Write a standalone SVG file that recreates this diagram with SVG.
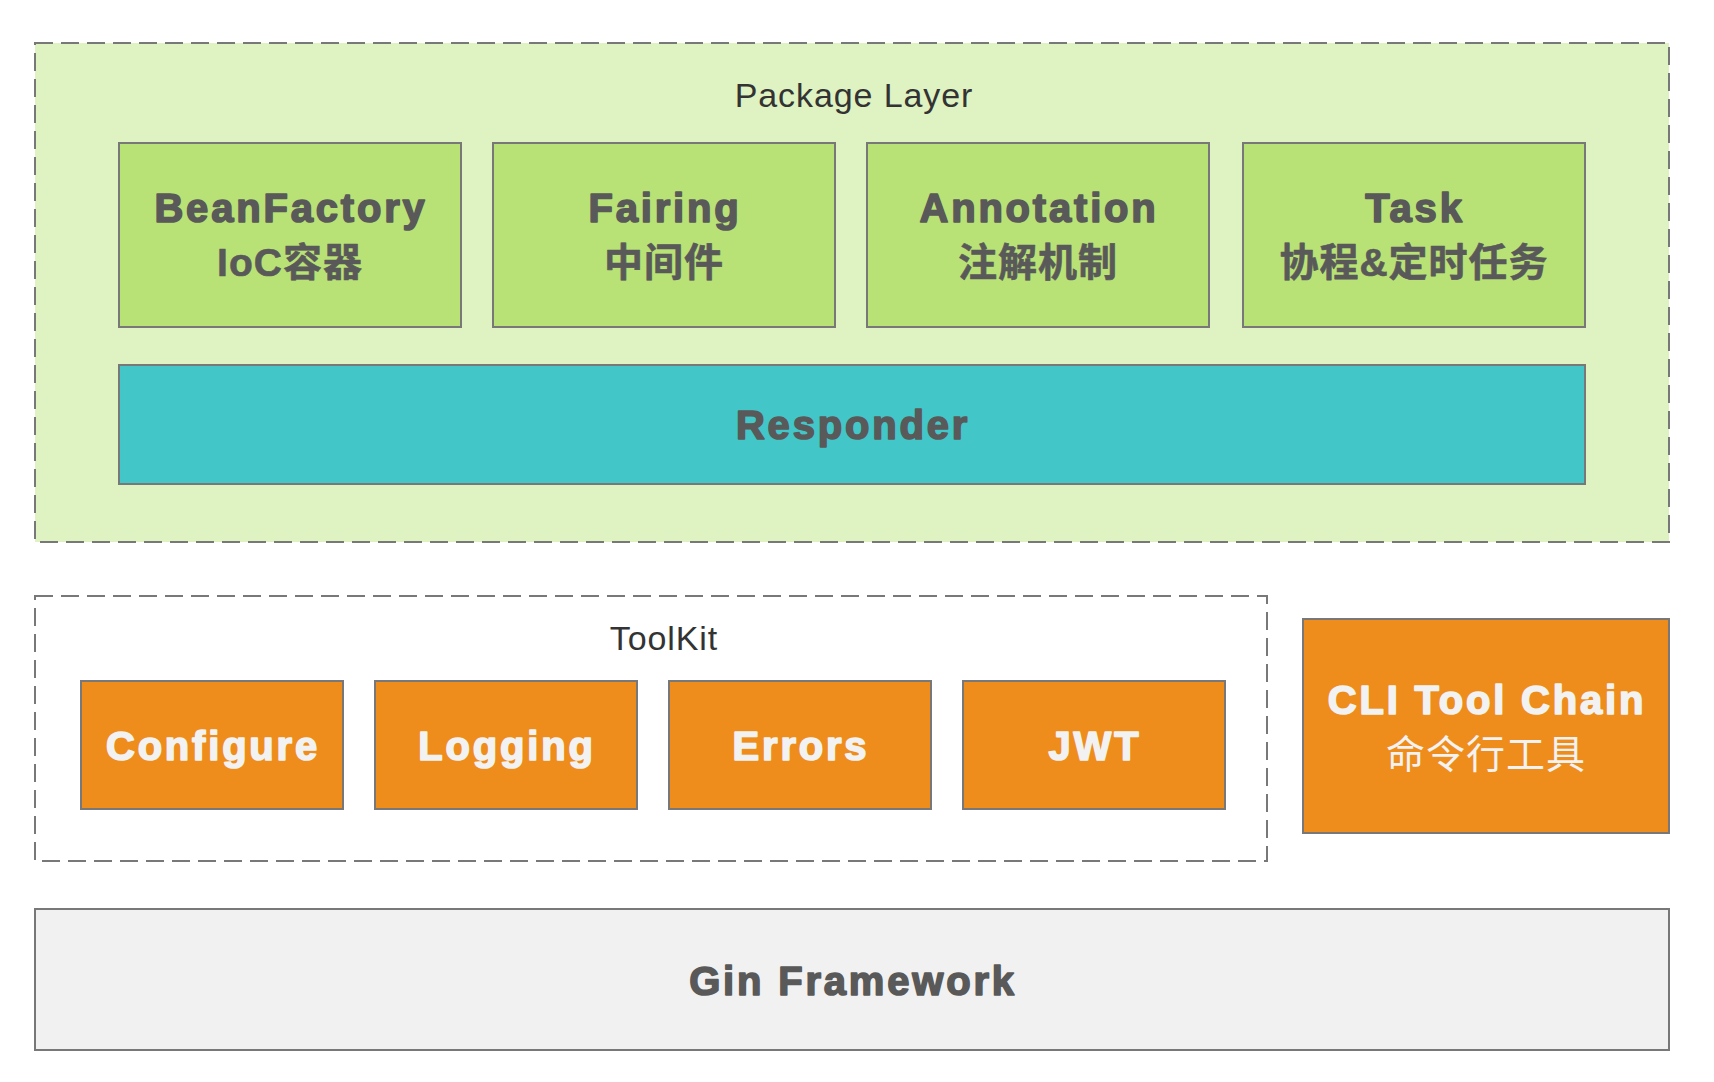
<svg xmlns="http://www.w3.org/2000/svg" width="1714" height="1082" viewBox="0 0 1714 1082">
<style>
.grp{stroke:#787878;stroke-width:2;stroke-dasharray:18 8}
.box{stroke:#787878;stroke-width:2}
.green{fill:#b8e176}
.orange{fill:#ef8d1c}
.t{font-family:"Liberation Sans","Noto Sans CJK SC",sans-serif;text-anchor:middle}
.b{font-weight:bold;font-size:40px;letter-spacing:2.8px;stroke-width:1.6px;stroke-linejoin:round}
.dk{fill:#595959;stroke:#595959}
.wh{fill:#f2f2f2;stroke:#f2f2f2}
.lbl{font-size:34px;letter-spacing:0.9px;fill:#333333}
.zh{font-size:39px;letter-spacing:1px;stroke-width:0.6px}
</style>
<rect width="1714" height="1082" fill="#ffffff"/>
<g id="package-layer">
<rect class="grp" x="35" y="43" width="1634" height="499" fill="#dff2c2"/>
<text class="t lbl" x="854" y="107">Package Layer</text>
</g>
<g id="beanfactory">
<rect class="box green" x="119" y="143" width="342" height="184"/>
<text class="t b dk" x="291" y="222">BeanFactory</text>
<text class="t b dk zh" x="290" y="276">IoC容器</text>
</g>
<g id="fairing">
<rect class="box green" x="493" y="143" width="342" height="184"/>
<text class="t b dk" x="665" y="222">Fairing</text>
<text class="t b dk zh" x="664" y="276">中间件</text>
</g>
<g id="annotation">
<rect class="box green" x="867" y="143" width="342" height="184"/>
<text class="t b dk" x="1039" y="222">Annotation</text>
<text class="t b dk zh" x="1038" y="276">注解机制</text>
</g>
<g id="task">
<rect class="box green" x="1243" y="143" width="342" height="184"/>
<text class="t b dk" x="1415" y="222">Task</text>
<text class="t b dk zh" x="1414" y="276">协程&amp;定时任务</text>
</g>
<g id="responder">
<rect class="box" x="119" y="365" width="1466" height="119" fill="#42c6c8"/>
<text class="t b dk" x="853" y="439">Responder</text>
</g>
<g id="toolkit">
<rect class="grp" x="35" y="596" width="1232" height="265" fill="#ffffff"/>
<text class="t lbl" x="664" y="650">ToolKit</text>
</g>
<g id="configure">
<rect class="box orange" x="81" y="681" width="262" height="128"/>
<text class="t b wh" x="213" y="760">Configure</text>
</g>
<g id="logging">
<rect class="box orange" x="375" y="681" width="262" height="128"/>
<text class="t b wh" x="507" y="760">Logging</text>
</g>
<g id="errors">
<rect class="box orange" x="669" y="681" width="262" height="128"/>
<text class="t b wh" x="801" y="760">Errors</text>
</g>
<g id="jwt">
<rect class="box orange" x="963" y="681" width="262" height="128"/>
<text class="t b wh" x="1095" y="760">JWT</text>
</g>
<g id="cli">
<rect class="box orange" x="1303" y="619" width="366" height="214"/>
<text class="t b wh" x="1487" y="714">CLI Tool Chain</text>
<text class="t zh" x="1486" y="768" fill="#f2f2f2">命令行工具</text>
</g>
<g id="gin">
<rect class="box" x="35" y="909" width="1634" height="141" fill="#f1f1f1"/>
<text class="t b dk" x="853" y="995">Gin Framework</text>
</g>
<g id="connectors"></g>
</svg>
